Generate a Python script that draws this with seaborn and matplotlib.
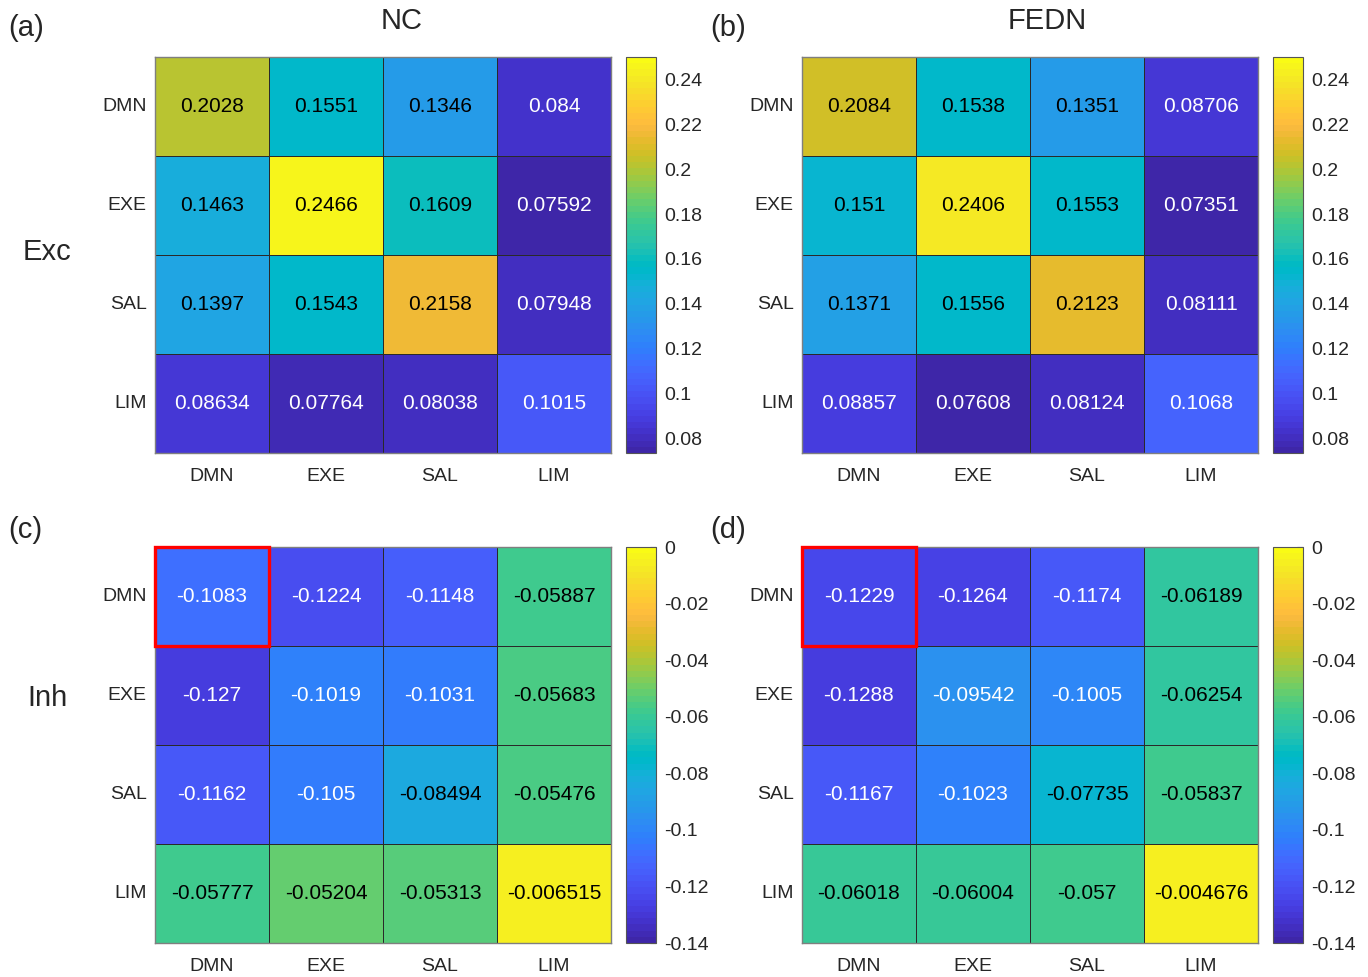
import numpy as np
import pandas as pd
import matplotlib
matplotlib.use("Agg")
import matplotlib.pyplot as plt
from matplotlib.colors import ListedColormap, Normalize
from matplotlib.patches import Rectangle
import seaborn as sns

sns.set_theme(style="white")
plt.rcParams['font.family'] = ['Liberation Sans', 'DejaVu Sans']

networks = ["DMN", "EXE", "SAL", "LIM"]

exc_nc = [[0.2028, 0.1551, 0.1346, 0.084],
          [0.1463, 0.2466, 0.1609, 0.07592],
          [0.1397, 0.1543, 0.2158, 0.07948],
          [0.08634, 0.07764, 0.08038, 0.1015]]
exc_fedn = [[0.2084, 0.1538, 0.1351, 0.08706],
            [0.151, 0.2406, 0.1553, 0.07351],
            [0.1371, 0.1556, 0.2123, 0.08111],
            [0.08857, 0.07608, 0.08124, 0.1068]]
inh_nc = [[-0.1083, -0.1224, -0.1148, -0.05887],
          [-0.127, -0.1019, -0.1031, -0.05683],
          [-0.1162, -0.105, -0.08494, -0.05476],
          [-0.05777, -0.05204, -0.05313, -0.006515]]
inh_fedn = [[-0.1229, -0.1264, -0.1174, -0.06189],
            [-0.1288, -0.09542, -0.1005, -0.06254],
            [-0.1167, -0.1023, -0.07735, -0.05837],
            [-0.06018, -0.06004, -0.057, -0.004676]]

exc_ticks = [0.08, 0.1, 0.12, 0.14, 0.16, 0.18, 0.2, 0.22, 0.24]
inh_ticks = [-0.14, -0.12, -0.1, -0.08, -0.06, -0.04, -0.02, 0]
exc_lim = (0.0735, 0.25)
inh_lim = (-0.14, 0.0)

panel_letters = ["(a)", "(b)", "(c)", "(d)"]
col_titles = ["NC", "FEDN"]
row_titles = ["Exc", "Inh"]

parula_data = [
    [0.2422, 0.1504, 0.6603], [0.2504, 0.1650, 0.7076], [0.2578, 0.1818, 0.7511],
    [0.2647, 0.1978, 0.7952], [0.2706, 0.2147, 0.8364], [0.2751, 0.2342, 0.8710],
    [0.2783, 0.2559, 0.8991], [0.2803, 0.2782, 0.9221], [0.2813, 0.3006, 0.9414],
    [0.2810, 0.3228, 0.9579], [0.2795, 0.3447, 0.9717], [0.2760, 0.3667, 0.9829],
    [0.2699, 0.3892, 0.9906], [0.2602, 0.4123, 0.9952], [0.2440, 0.4358, 0.9988],
    [0.2206, 0.4603, 0.9973], [0.1963, 0.4847, 0.9892], [0.1834, 0.5074, 0.9798],
    [0.1786, 0.5289, 0.9682], [0.1764, 0.5499, 0.9520], [0.1687, 0.5703, 0.9359],
    [0.1540, 0.5902, 0.9218], [0.1460, 0.6091, 0.9079], [0.1380, 0.6276, 0.8973],
    [0.1248, 0.6459, 0.8883], [0.1113, 0.6635, 0.8763], [0.0952, 0.6798, 0.8598],
    [0.0689, 0.6948, 0.8394], [0.0297, 0.7082, 0.8163], [0.0036, 0.7203, 0.7917],
    [0.0067, 0.7312, 0.7660], [0.0433, 0.7411, 0.7394], [0.0964, 0.7500, 0.7120],
    [0.1408, 0.7584, 0.6842], [0.1717, 0.7670, 0.6554], [0.1938, 0.7758, 0.6251],
    [0.2161, 0.7843, 0.5923], [0.2470, 0.7918, 0.5567], [0.2906, 0.7973, 0.5188],
    [0.3406, 0.8008, 0.4789], [0.3909, 0.8029, 0.4354], [0.4456, 0.8024, 0.3909],
    [0.5044, 0.7993, 0.3480], [0.5616, 0.7942, 0.3045], [0.6174, 0.7876, 0.2612],
    [0.6720, 0.7793, 0.2227], [0.7242, 0.7698, 0.1910], [0.7738, 0.7598, 0.1646],
    [0.8203, 0.7498, 0.1535], [0.8634, 0.7406, 0.1596], [0.9035, 0.7330, 0.1774],
    [0.9393, 0.7288, 0.2100], [0.9728, 0.7298, 0.2394], [0.9956, 0.7434, 0.2371],
    [0.9970, 0.7659, 0.2199], [0.9952, 0.7893, 0.2028], [0.9892, 0.8136, 0.1885],
    [0.9786, 0.8386, 0.1766], [0.9676, 0.8639, 0.1643], [0.9610, 0.8890, 0.1537],
    [0.9597, 0.9135, 0.1423], [0.9628, 0.9373, 0.1265], [0.9691, 0.9606, 0.1064],
    [0.9769, 0.9839, 0.0805]]
parula = ListedColormap(parula_data, name="parula")

W, H = 1368, 977
fig = plt.figure(figsize=(W / 100, H / 100), dpi=100)


def fr(x0, y0, x1, y1):
    return [x0 / W, 1 - y1 / H, (x1 - x0) / W, (y1 - y0) / H]


panels = [
    (exc_nc, exc_lim, exc_ticks, fr(155, 57, 611, 453), fr(626, 57, 656, 453), False),
    (exc_fedn, exc_lim, exc_ticks, fr(802, 57, 1258, 453), fr(1273, 57, 1303, 453), False),
    (inh_nc, inh_lim, inh_ticks, fr(155, 547, 611, 943), fr(626, 547, 656, 943), True),
    (inh_fedn, inh_lim, inh_ticks, fr(802, 547, 1258, 943), fr(1273, 547, 1303, 943), True),
]

txt_color = "#262626"
for k, (mat, lim, ticks, axpos, cpos, mark) in enumerate(panels):
    ax = fig.add_axes(axpos)
    cax = fig.add_axes(cpos)
    df = pd.DataFrame(mat, index=networks, columns=networks)
    sns.heatmap(df, ax=ax, cbar_ax=cax, cmap=parula, vmin=lim[0], vmax=lim[1],
                linewidths=0.7, linecolor="#2a2a2a", annot=False)
    norm = Normalize(lim[0], lim[1])
    arr = np.array(mat)
    for i in range(arr.shape[0]):
        for j in range(arr.shape[1]):
            v = arr[i, j]
            c = "white" if norm(v) < 0.34 else "black"
            ax.text(j + 0.5, i + 0.5, format(v, ".4g"), ha="center", va="center",
                    fontsize=15, color=c)
    ax.tick_params(axis="both", length=0, labelsize=14, colors=txt_color)
    ax.tick_params(axis="x", pad=11)
    ax.tick_params(axis="y", pad=6)
    ax.set_yticklabels(networks, rotation=0)
    ax.set_xticklabels(networks, rotation=0)
    ax.set_xlabel("")
    ax.set_ylabel("")
    for s in ax.spines.values():
        s.set_visible(True)
        s.set_color("#7f7f7f")
        s.set_linewidth(1.0)
    if mark:
        ax.add_patch(Rectangle((0, 0), 1, 1, fill=False, edgecolor="#ff0000",
                               linewidth=2.4, zorder=5, clip_on=False))
    cb = ax.collections[0].colorbar
    cb.set_ticks(ticks)
    cb.set_ticklabels([format(t, "g") for t in ticks])
    cax.tick_params(direction="in", length=4, width=0.8, color="#333333",
                    labelsize=14, labelcolor=txt_color, pad=6)
    cb.outline.set_edgecolor("#555555")
    cb.outline.set_linewidth(0.8)

# panel letters and titles
fig.text(8 / W, 1 - 28 / H, panel_letters[0], fontsize=21, va="center", ha="left")
fig.text(710 / W, 1 - 28 / H, panel_letters[1], fontsize=21, va="center", ha="left")
fig.text(8 / W, 1 - 530 / H, panel_letters[2], fontsize=21, va="center", ha="left")
fig.text(710 / W, 1 - 530 / H, panel_letters[3], fontsize=21, va="center", ha="left")
fig.text(402 / W, 1 - 21 / H, col_titles[0], fontsize=21, va="center", ha="center")
fig.text(1047 / W, 1 - 21 / H, col_titles[1], fontsize=21, va="center", ha="center")
fig.text(47 / W, 1 - 252 / H, row_titles[0], fontsize=21, va="center", ha="center")
fig.text(47 / W, 1 - 698 / H, row_titles[1], fontsize=21, va="center", ha="center")

fig.savefig("out.png", dpi=100, facecolor="white")
